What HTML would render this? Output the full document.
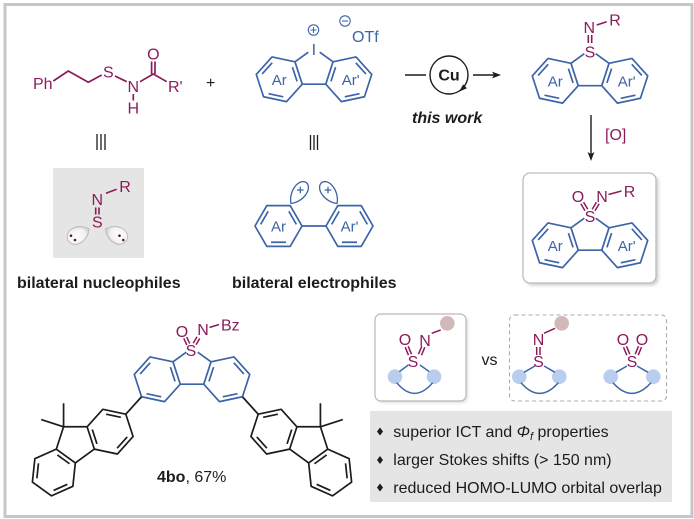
<!DOCTYPE html>
<html><head><meta charset="utf-8"><style>
html,body{margin:0;padding:0;background:#fff;}
svg{display:block;font-family:"Liberation Sans",Arial,sans-serif;}
</style></head><body>
<svg width="694" height="519" viewBox="0 0 694 519" xmlns="http://www.w3.org/2000/svg">
<defs>
<radialGradient id="lobe" cx="45%" cy="35%" r="70%">
<stop offset="0" stop-color="#ffffff"/><stop offset="0.6" stop-color="#f2f2f2"/><stop offset="1" stop-color="#bdbdbd"/>
</radialGradient>
<filter id="sh" x="-10%" y="-10%" width="130%" height="130%"><feGaussianBlur stdDeviation="1.5"/></filter>
</defs>
<rect x="0" y="0" width="694" height="519" fill="#fff"/>
<rect x="5" y="4.5" width="687" height="512" fill="none" stroke="#c6c6c6" stroke-width="3"/>

<!-- Top-left sulfenamide -->
<g fill="#8b1c5b" font-size="16">
<text x="33" y="89">Ph</text>
<text x="108.3" y="77.5" text-anchor="middle">S</text>
<text x="133.3" y="92" text-anchor="middle">N</text>
<text x="153.3" y="59.5" text-anchor="middle">O</text>
<text x="168" y="92">R'</text>
<text x="133.3" y="113.5" text-anchor="middle">H</text>
</g>
<g stroke="#8b1c5b" stroke-width="1.7" fill="none" stroke-linejoin="round">
<path d="M53.3,81 L68.3,71 L88.3,82.3 L101.7,75"/>
<path d="M115,76 L126.7,81.7"/>
<path d="M140,81.7 L153.3,74 L166.7,81.7"/>
<path d="M151.6,74 L151.6,61.5 M155,74 L155,61.5"/>
<path d="M133.3,94 L133.3,100.5"/>
</g>
<text x="210.7" y="88" font-size="16" text-anchor="middle" fill="#1c1c1c">+</text>

<!-- equivalence marks -->
<g stroke="#1c1c1c" stroke-width="1.3">
<path d="M97,134 V150 M101,134 V150 M105,134 V150"/>
<path d="M310.5,135 V150 M314,135 V150 M317.5,135 V150"/>
</g>

<!-- Iodonium -->
<g transform="translate(314,68)" stroke="#3c64a8" stroke-width="1.7" fill="none" stroke-linejoin="round">
<polygon points="-11.76,16.18 -27.48,33.64 -50.46,28.75 -57.73,6.40 -42.0,-11.06 -19.02,-6.18"/>
<polygon points="11.76,16.18 27.48,33.64 50.46,28.75 57.73,6.40 42.0,-11.06 19.02,-6.18"/>
<path d="M-11.76,16.18 L11.76,16.18 M-19.02,-6.18 L-5.7,-15.85 M19.02,-6.18 L5.7,-15.85"/>
<path d="M-21.58,-0.89 L-16.94,13.41 M-30.77,28.78 L-45.48,25.65 M-51.87,5.98 L-41.81,-5.19 M21.58,-0.89 L16.94,13.41 M30.77,28.78 L45.48,25.65 M51.87,5.98 L41.81,-5.19"/>
</g>
<g fill="#3c64a8" font-size="15" text-anchor="middle">
<text x="279.3" y="84.8">Ar</text>
<text x="350.7" y="84.8">Ar'</text>
</g>
<text x="313.8" y="55" font-size="16" text-anchor="middle" fill="#3c64a8">I</text>
<g stroke="#3c64a8" stroke-width="1.1" fill="none">
<circle cx="313.5" cy="30" r="5.2"/><path d="M310.5,30 H316.5 M313.5,27 V33"/>
<circle cx="345" cy="21" r="5.2"/><path d="M342,21 H348"/>
</g>
<text x="352" y="42" font-size="16" fill="#3c64a8">OTf</text>

<!-- Cu cycle -->
<g stroke="#1c1c1c" stroke-width="1.4" fill="none">
<path d="M405,75 H426"/>
<circle cx="449" cy="75" r="19"/>
<path d="M473,75 H494"/>
</g>
<polygon points="501,75 492,71.6 494,75 492,78.4" fill="#1c1c1c"/>
<polygon points="459.2,91.6 466.9,88.3 463.1,84.4" fill="#1c1c1c"/>
<text x="449" y="80.5" font-size="16" font-weight="bold" text-anchor="middle" fill="#1c1c1c">Cu</text>
<text x="412" y="123" font-size="16" font-weight="bold" font-style="italic" fill="#1c1c1c">this work</text>

<!-- Top-right sulfilimine DBT -->
<g transform="translate(590,69.5)" stroke="#3c64a8" stroke-width="1.7" fill="none" stroke-linejoin="round">
<polygon points="-11.76,16.18 -27.48,33.64 -50.46,28.75 -57.73,6.40 -42.0,-11.06 -19.02,-6.18"/>
<polygon points="11.76,16.18 27.48,33.64 50.46,28.75 57.73,6.40 42.0,-11.06 19.02,-6.18"/>
<path d="M-11.76,16.18 L11.76,16.18 M-19.02,-6.18 L-5.7,-15.85 M19.02,-6.18 L5.7,-15.85"/>
<path d="M-21.58,-0.89 L-16.94,13.41 M-30.77,28.78 L-45.48,25.65 M-51.87,5.98 L-41.81,-5.19 M21.58,-0.89 L16.94,13.41 M30.77,28.78 L45.48,25.65 M51.87,5.98 L41.81,-5.19"/>
</g>
<g fill="#3c64a8" font-size="15" text-anchor="middle">
<text x="555.3" y="86.3">Ar</text>
<text x="626.7" y="86.3">Ar'</text>
</g>
<g fill="#8b1c5b" font-size="16" text-anchor="middle">
<text x="590" y="57.3">S</text>
<text x="589.3" y="33">N</text>
<text x="615" y="25.5">R</text>
</g>
<g stroke="#8b1c5b" stroke-width="1.6">
<path d="M588.3,35 V43 M591.7,35 V43"/>
<path d="M596.7,25 L606.7,21.7"/>
</g>

<!-- [O] arrow -->
<path d="M591,115 V154" stroke="#1c1c1c" stroke-width="1.4"/>
<polygon points="591,161 587.6,152 591,154 594.4,152" fill="#1c1c1c"/>
<text x="605" y="140" font-size="16" fill="#8b1c5b">[O]</text>

<!-- Product box -->
<rect x="525.5" y="175.5" width="133" height="110" rx="7" fill="#cfcfcf" filter="url(#sh)"/>
<rect x="523" y="173" width="133" height="110" rx="7" fill="#fff" stroke="#bdbdbd" stroke-width="1.3"/>
<g transform="translate(590,234)" stroke="#3c64a8" stroke-width="1.7" fill="none" stroke-linejoin="round">
<polygon points="-11.76,16.18 -27.48,33.64 -50.46,28.75 -57.73,6.40 -42.0,-11.06 -19.02,-6.18"/>
<polygon points="11.76,16.18 27.48,33.64 50.46,28.75 57.73,6.40 42.0,-11.06 19.02,-6.18"/>
<path d="M-11.76,16.18 L11.76,16.18 M-19.02,-6.18 L-5.7,-15.85 M19.02,-6.18 L5.7,-15.85"/>
<path d="M-21.58,-0.89 L-16.94,13.41 M-30.77,28.78 L-45.48,25.65 M-51.87,5.98 L-41.81,-5.19 M21.58,-0.89 L16.94,13.41 M30.77,28.78 L45.48,25.65 M51.87,5.98 L41.81,-5.19"/>
</g>
<g fill="#3c64a8" font-size="15" text-anchor="middle">
<text x="555.3" y="250.8">Ar</text>
<text x="626.7" y="250.8">Ar'</text>
</g>
<g fill="#8b1c5b" font-size="16" text-anchor="middle">
<text x="590" y="222">S</text>
<text x="578" y="202">O</text>
<text x="602" y="202">N</text>
<text x="629.5" y="197">R</text>
</g>
<g stroke="#8b1c5b" stroke-width="1.5">
<path d="M587.8,209.2 L583.6,202.2 M585,210.8 L580.8,203.8"/>
<path d="M595,210.8 L599.2,203.8 M592.2,209.2 L596.4,202.2"/>
<path d="M608.5,194.5 L621.5,191"/>
</g>

<!-- Nucleophile box -->
<rect x="53" y="168" width="91" height="90" fill="#e5e5e5"/>
<g fill="#8b1c5b" font-size="16" text-anchor="middle">
<text x="125" y="192">R</text>
<text x="97.3" y="205">N</text>
<text x="97.3" y="227.5">S</text>
</g>
<g stroke="#8b1c5b" stroke-width="1.6">
<path d="M106,193.3 L116.7,189.3"/>
<path d="M95.7,207.5 V214.5 M99,207.5 V214.5"/>
</g>
<g fill="url(#lobe)" stroke="#b3b3b3" stroke-width="0.8">
<path transform="translate(89,229) rotate(-118)" d="M0,0 C-10,-6 -12,-22 0,-24 C12,-22 10,-6 0,0Z"/>
<path transform="translate(105.6,229) rotate(118)" d="M0,0 C-10,-6 -12,-22 0,-24 C12,-22 10,-6 0,0Z"/>
</g>
<g fill="#5a1840">
<circle cx="71" cy="235.7" r="1.3"/><circle cx="75" cy="240" r="1.3"/>
<circle cx="119.5" cy="235.7" r="1.3"/><circle cx="123.3" cy="240" r="1.3"/>
</g>
<text x="17" y="288" font-size="16" font-weight="bold" fill="#1c1c1c">bilateral nucleophiles</text>

<!-- Electrophile biphenyl -->
<g stroke="#3c64a8" stroke-width="1.7" fill="none" stroke-linejoin="round">
<polygon points="302,226 290.25,246.35 266.75,246.35 255,226 266.75,205.65 290.25,205.65"/>
<polygon points="373,226 361.25,246.35 337.75,246.35 326,226 337.75,205.65 361.25,205.65"/>
<path d="M302,226 H326"/>
<path d="M286.02,242.28 H270.98 M260.64,224.37 L268.16,211.35 M288.84,211.35 L296.36,224.37"/>
<path d="M357.02,242.28 H341.98 M331.64,224.37 L339.16,211.35 M359.84,211.35 L367.36,224.37"/>
</g>
<g fill="#fff" stroke="#3c64a8" stroke-width="1.3">
<path transform="translate(291,203.5) rotate(36)" d="M0,0 C-9,-8 -9,-25 0,-26 C9,-25 9,-8 0,0Z"/>
<path transform="translate(337,203.5) rotate(-36)" d="M0,0 C-9,-8 -9,-25 0,-26 C9,-25 9,-8 0,0Z"/>
</g>
<g stroke="#3c64a8" stroke-width="1.3">
<path d="M297,190 H303.6 M300.3,186.7 V193.3"/>
<path d="M324.7,190 H331.3 M328,186.7 V193.3"/>
</g>
<g fill="#3c64a8" font-size="15" text-anchor="middle">
<text x="278.5" y="231.5">Ar</text>
<text x="349.5" y="231.5">Ar'</text>
</g>
<text x="232" y="288" font-size="16" font-weight="bold" fill="#1c1c1c">bilateral electrophiles</text>

<!-- 4bo core -->
<g transform="translate(192,368)" stroke="#3c64a8" stroke-width="1.7" fill="none" stroke-linejoin="round">
<polygon points="-11.76,16.18 -27.48,33.64 -50.46,28.75 -57.73,6.40 -42.0,-11.06 -19.02,-6.18"/>
<polygon points="11.76,16.18 27.48,33.64 50.46,28.75 57.73,6.40 42.0,-11.06 19.02,-6.18"/>
<path d="M-11.76,16.18 L11.76,16.18 M-19.02,-6.18 L-5.7,-15.85 M19.02,-6.18 L5.7,-15.85"/>
<path d="M-21.58,-0.89 L-16.94,13.41 M-30.77,28.78 L-45.48,25.65 M-51.87,5.98 L-41.81,-5.19 M21.58,-0.89 L16.94,13.41 M30.77,28.78 L45.48,25.65 M51.87,5.98 L41.81,-5.19"/>
</g>
<g fill="#8b1c5b" font-size="16" text-anchor="middle">
<text x="191" y="356">S</text>
<text x="182" y="337">O</text>
<text x="203" y="335">N</text>
</g>
<text x="221" y="330.5" font-size="16" fill="#8b1c5b">Bz</text>
<g stroke="#8b1c5b" stroke-width="1.5">
<path d="M189.75,343.6 L186.65,336.9 M186.85,345 L183.75,338.3"/>
<path d="M195.97,344.8 L199.77,338.4 M193.23,343.2 L197.03,336.8"/>
<path d="M209.5,327.5 L219,324.5"/>
</g>

<!-- Fluorenes -->
<g id="fl" stroke="#1c1c1c" stroke-width="1.7" fill="none" stroke-linejoin="round">
<path d="M141.54,396.75 L125.82,414.21"/>
<polygon points="125.82,414.21 133.07,436.55 117.34,454.01 94.36,449.12 87.09,426.77 102.82,409.31"/>
<path d="M94.36,449.12 L75.34,462.95 M56.32,449.13 L63.58,426.77 L87.09,426.77"/>
<polygon points="75.33,462.94 72.87,486.32 51.4,495.87 32.39,482.06 34.85,458.68 56.32,449.13"/>
<path d="M63.58,426.77 L63.58,403.27 M63.58,426.77 L41.23,419.51"/>
<path d="M106.11,414.17 L120.82,417.3 M127.21,436.97 L117.15,448.14 M96.92,443.84 L92.27,429.54"/>
<path d="M57.35,454.9 L69.52,463.75 M67.35,484.32 L53.61,490.44 M36.88,478.28 L38.45,463.31"/>
</g>
<g transform="translate(384,0) scale(-1,1)" stroke="#1c1c1c" stroke-width="1.7" fill="none" stroke-linejoin="round">
<path d="M141.54,396.75 L125.82,414.21"/>
<polygon points="125.82,414.21 133.07,436.55 117.34,454.01 94.36,449.12 87.09,426.77 102.82,409.31"/>
<path d="M94.36,449.12 L75.34,462.95 M56.32,449.13 L63.58,426.77 L87.09,426.77"/>
<polygon points="75.33,462.94 72.87,486.32 51.4,495.87 32.39,482.06 34.85,458.68 56.32,449.13"/>
<path d="M63.58,426.77 L63.58,403.27 M63.58,426.77 L41.23,419.51"/>
<path d="M106.11,414.17 L120.82,417.3 M127.21,436.97 L117.15,448.14 M96.92,443.84 L92.27,429.54"/>
<path d="M57.35,454.9 L69.52,463.75 M67.35,484.32 L53.61,490.44 M36.88,478.28 L38.45,463.31"/>
</g>
<text x="157" y="482" font-size="16" fill="#1c1c1c"><tspan font-weight="bold">4bo</tspan>, 67%</text>

<!-- Comparison boxes -->
<rect x="376.5" y="315.5" width="91" height="87" rx="6" fill="#d6d6d6" filter="url(#sh)"/>
<rect x="375" y="314" width="91" height="87" rx="6" fill="#fff" stroke="#b8b8b8" stroke-width="1.2"/>
<rect x="509.5" y="315" width="157" height="86" rx="5" fill="none" stroke="#ababab" stroke-width="1.1" stroke-dasharray="4 3"/>
<text x="481.5" y="365" font-size="16" fill="#1c1c1c">vs</text>

<g fill="#d3b8ba">
<circle cx="447.3" cy="323.3" r="7.3"/>
<circle cx="561.7" cy="323.3" r="7.3"/>
</g>
<g fill="#b9cdee">
<circle cx="395" cy="376.7" r="7.3"/><circle cx="434" cy="376.7" r="7.3"/>
<circle cx="519.3" cy="376.7" r="7.3"/><circle cx="559.3" cy="376.7" r="7.3"/>
<circle cx="610.7" cy="376.7" r="7.3"/><circle cx="653.3" cy="376.7" r="7.3"/>
</g>
<g stroke="#3c64a8" stroke-width="1.5" fill="none">
<path d="M408.3,365 L399.3,371.7 M420,365 L429.3,371.7"/>
<path d="M396.7,382.7 Q414.5,404 432.7,382.7"/>
<path d="M535,366 L524,372.3 M544,366 L555,372.3"/>
<path d="M521,382.7 Q539.5,404 558.3,382.7"/>
<path d="M627,366 L616,372.3 M637,366 L648,372.3"/>
<path d="M613,382.7 Q632,404 651,382.7"/>
</g>
<g fill="#8b1c5b" font-size="16" text-anchor="middle">
<text x="413" y="367">S</text>
<text x="405" y="345">O</text>
<text x="425" y="346">N</text>
<text x="538.5" y="345">N</text>
<text x="538.5" y="367">S</text>
<text x="623" y="345">O</text>
<text x="642" y="345">O</text>
<text x="632" y="367">S</text>
</g>
<g stroke="#8b1c5b" stroke-width="1.5">
<path d="M405.2,347.2 L408.5,355.2 M408.2,346.2 L411.5,354.2"/>
<path d="M424.8,347.2 L421.5,355.2 M421.8,346.2 L418.5,354.2"/>
<path d="M431.7,333.3 L440.7,330"/>
<path d="M536.7,347 V355 M540,347 V355"/>
<path d="M544,333.3 L555,328.3"/>
<path d="M623.5,347.2 L626.8,355.2 M626.5,346.2 L629.8,354.2"/>
<path d="M641.5,347.2 L638.2,355.2 M638.5,346.2 L635.2,354.2"/>
</g>

<!-- Properties box -->
<rect x="370" y="411" width="302" height="91" fill="#e5e5e5"/>
<g fill="#1c1c1c">
<polygon points="380,427.5 383,431.5 380,435.5 377,431.5"/>
<polygon points="380,456 383,460 380,464 377,460"/>
<polygon points="380,483.5 383,487.5 380,491.5 377,487.5"/>
</g>
<g font-size="16" fill="#1c1c1c">
<text x="393.3" y="437">superior ICT and <tspan font-style="italic">Φ</tspan><tspan font-style="italic" font-size="11" dy="3">f</tspan><tspan dy="-3">  properties</tspan></text>
<text x="393.3" y="465">larger Stokes shifts (&gt; 150 nm)</text>
<text x="393.3" y="493">reduced HOMO-LUMO orbital overlap</text>
</g>
</svg>
</body></html>
